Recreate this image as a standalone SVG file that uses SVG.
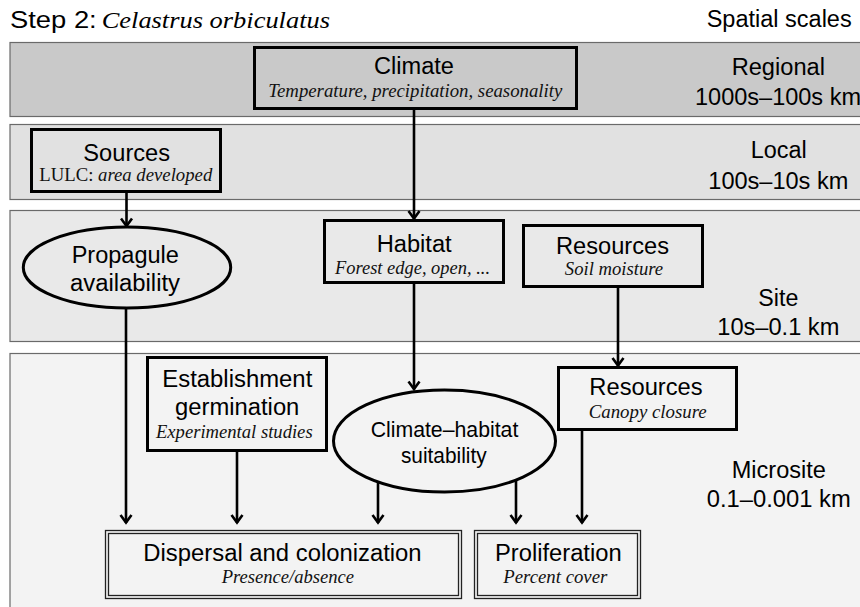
<svg xmlns="http://www.w3.org/2000/svg" width="860" height="607" viewBox="0 0 860 607">
<defs>
<marker id="ah" viewBox="0 0 12 14" refX="9.5" refY="7" markerWidth="12" markerHeight="14" markerUnits="userSpaceOnUse" orient="auto">
<path d="M1.5,1.5 L9,7 L1.5,12.5" fill="none" stroke="#000" stroke-width="2.6" stroke-linejoin="miter"/>
</marker>
</defs>
<style>
.band{stroke:#6a6a6a;stroke-width:1.2}
.box{fill:none;stroke:#000;stroke-width:3}
.dbl{fill:none;stroke:#222;stroke-width:1.3}
.t{font-family:"Liberation Sans",Arial,sans-serif;font-size:23px;fill:#000;text-anchor:middle}
.s{font-family:"Liberation Serif","Times New Roman",serif;font-size:18px;font-style:italic;fill:#111;text-anchor:middle}
.c{fill:none;stroke:#000;stroke-width:2.6}
</style>
<rect width="860" height="607" fill="#ffffff"/>
<g id="title">
<text x="10" y="28" font-family="&quot;Liberation Sans&quot;,Arial,sans-serif" font-size="23" fill="#000" textLength="86.7" lengthAdjust="spacingAndGlyphs">Step 2:</text>
<text x="101.7" y="28" font-family="&quot;Liberation Serif&quot;,&quot;Times New Roman&quot;,serif" font-style="italic" font-size="24" fill="#000" textLength="228.3" lengthAdjust="spacingAndGlyphs">Celastrus orbiculatus</text>
<text class="t" x="779.2" y="27" textLength="145" lengthAdjust="spacingAndGlyphs">Spatial scales</text>
</g>
<g id="bands">
<rect class="band" x="10" y="42.5" width="870" height="74" fill="#c9c9c9"/>
<rect class="band" x="10" y="124.5" width="870" height="75" fill="#e1e1e1"/>
<rect class="band" x="10" y="210.5" width="870" height="131" fill="#e9e9e9"/>
<rect class="band" x="10" y="353.5" width="870" height="270" fill="#f3f3f3"/>
</g>
<g id="scale-labels">
<text class="t" x="778.3" y="75" textLength="93.3" lengthAdjust="spacingAndGlyphs">Regional</text>
<text class="t" x="778" y="105" textLength="166" lengthAdjust="spacingAndGlyphs">1000s–100s km</text>
<text class="t" x="778.7" y="158" textLength="56" lengthAdjust="spacingAndGlyphs">Local</text>
<text class="t" x="778.3" y="189" textLength="140" lengthAdjust="spacingAndGlyphs">100s–10s km</text>
<text class="t" x="778.3" y="305.5" textLength="40" lengthAdjust="spacingAndGlyphs">Site</text>
<text class="t" x="778.3" y="335" textLength="122" lengthAdjust="spacingAndGlyphs">10s–0.1 km</text>
<text class="t" x="778.8" y="478.3" textLength="94.3" lengthAdjust="spacingAndGlyphs">Microsite</text>
<text class="t" x="778.7" y="506.7" textLength="144" lengthAdjust="spacingAndGlyphs">0.1–0.001 km</text>
</g>
<g id="connectors">
<line class="c" x1="414" y1="109" x2="414" y2="219" marker-end="url(#ah)"/>
<line class="c" x1="126.5" y1="192" x2="126.5" y2="226.5" marker-end="url(#ah)"/>
<line class="c" x1="414" y1="283" x2="414" y2="389.5" marker-end="url(#ah)"/>
<line class="c" x1="618" y1="287" x2="618" y2="366" marker-end="url(#ah)"/>
<line class="c" x1="126" y1="308" x2="126" y2="523" marker-end="url(#ah)"/>
<line class="c" x1="237" y1="451" x2="237" y2="523" marker-end="url(#ah)"/>
<line class="c" x1="378" y1="481" x2="378" y2="523" marker-end="url(#ah)"/>
<line class="c" x1="516" y1="479" x2="516" y2="523" marker-end="url(#ah)"/>
<line class="c" x1="582" y1="430" x2="582" y2="523" marker-end="url(#ah)"/>
</g>
<g id="climate">
<rect class="box" x="254.5" y="47.5" width="322" height="61"/>
<text class="t" x="414" y="74" textLength="80" lengthAdjust="spacingAndGlyphs">Climate</text>
<text class="s" x="415.3" y="97" textLength="294" lengthAdjust="spacingAndGlyphs">Temperature, precipitation, seasonality</text>
</g>
<g id="sources">
<rect class="box" x="31.5" y="129.5" width="189" height="62"/>
<text class="t" x="126.7" y="160.5" textLength="86.7" lengthAdjust="spacingAndGlyphs">Sources</text>
<text class="s" x="125.8" y="181" textLength="173" lengthAdjust="spacingAndGlyphs"><tspan font-style="normal">LULC: </tspan>area developed</text>
</g>
<g id="propagule">
<ellipse cx="127" cy="267.5" rx="103.7" ry="40.5" fill="none" stroke="#000" stroke-width="3"/>
<text class="t" x="125.3" y="262.7" textLength="107.3" lengthAdjust="spacingAndGlyphs">Propagule</text>
<text class="t" x="125" y="290.7" textLength="110" lengthAdjust="spacingAndGlyphs">availability</text>
</g>
<g id="habitat">
<rect class="box" x="324.5" y="220.5" width="179" height="62"/>
<text class="t" x="414.2" y="252" textLength="75" lengthAdjust="spacingAndGlyphs">Habitat</text>
<text class="s" x="412.5" y="274" textLength="155" lengthAdjust="spacingAndGlyphs">Forest edge, open, ...</text>
</g>
<g id="resources-site">
<rect class="box" x="523.5" y="225.5" width="179" height="61"/>
<text class="t" x="612.5" y="254" textLength="113" lengthAdjust="spacingAndGlyphs">Resources</text>
<text class="s" x="614" y="275" textLength="98.3" lengthAdjust="spacingAndGlyphs">Soil moisture</text>
</g>
<g id="resources-micro">
<rect class="box" x="558.5" y="367.5" width="178" height="62"/>
<text class="t" x="646" y="395" textLength="113.3" lengthAdjust="spacingAndGlyphs">Resources</text>
<text class="s" x="647.7" y="417.5" textLength="118" lengthAdjust="spacingAndGlyphs">Canopy closure</text>
</g>
<g id="establishment">
<rect class="box" x="147.5" y="357.5" width="179" height="93"/>
<text class="t" x="237.3" y="386.7" textLength="150" lengthAdjust="spacingAndGlyphs">Establishment</text>
<text class="t" x="237.2" y="415" textLength="124.3" lengthAdjust="spacingAndGlyphs">germination</text>
<text class="s" x="234.3" y="437.5" textLength="156.7" lengthAdjust="spacingAndGlyphs">Experimental studies</text>
</g>
<g id="suitability">
<ellipse cx="444.5" cy="441" rx="111" ry="51" fill="none" stroke="#000" stroke-width="3"/>
<text class="t" x="444.5" y="436.7" font-size="21.3" style="font-size:21.3px" textLength="147.7" lengthAdjust="spacingAndGlyphs">Climate–habitat</text>
<text class="t" x="443.8" y="463.3" style="font-size:21.3px" textLength="85.7" lengthAdjust="spacingAndGlyphs">suitability</text>
</g>
<g id="dispersal">
<rect class="dbl" x="105.5" y="530.5" width="356" height="68"/>
<rect class="dbl" x="108.5" y="533.5" width="350" height="62"/>
<text class="t" x="282.5" y="561" textLength="278.3" lengthAdjust="spacingAndGlyphs">Dispersal and colonization</text>
<text class="s" x="287.8" y="582.7" textLength="132.3" lengthAdjust="spacingAndGlyphs">Presence/absence</text>
</g>
<g id="proliferation">
<rect class="dbl" x="474.5" y="530.5" width="166" height="68"/>
<rect class="dbl" x="477.5" y="533.5" width="160" height="62"/>
<text class="t" x="558.3" y="561" textLength="126.7" lengthAdjust="spacingAndGlyphs">Proliferation</text>
<text class="s" x="555.3" y="582.7" textLength="104" lengthAdjust="spacingAndGlyphs">Percent cover</text>
</g>
</svg>
